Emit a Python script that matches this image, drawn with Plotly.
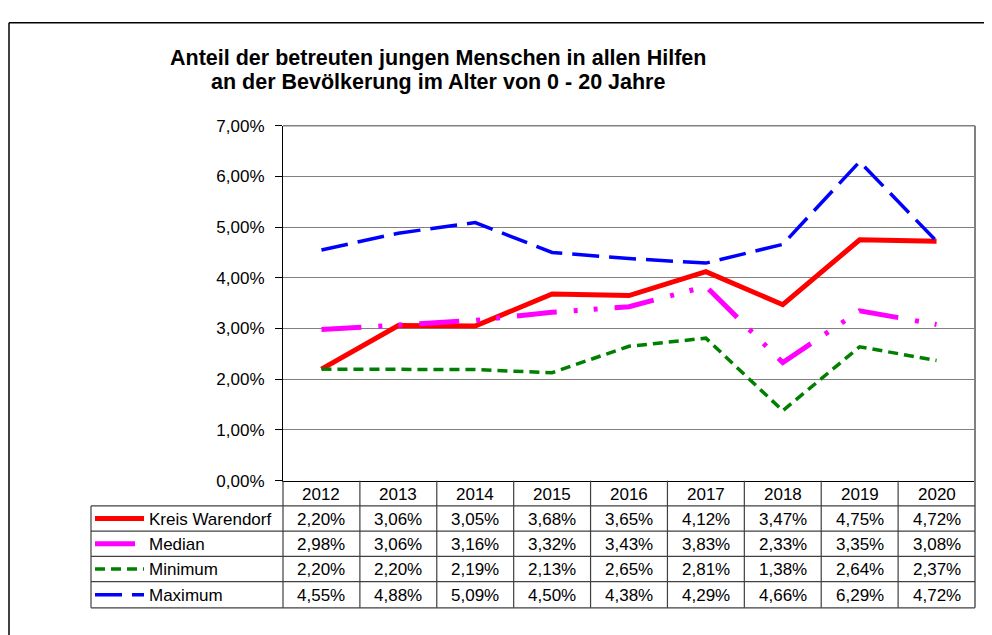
import plotly.graph_objects as go

years = ["2012", "2013", "2014", "2015", "2016", "2017", "2018", "2019", "2020"]
series_names = ["Kreis Warendorf", "Median", "Minimum", "Maximum"]
kreis = [2.20, 3.06, 3.05, 3.68, 3.65, 4.12, 3.47, 4.75, 4.72]
median = [2.98, 3.06, 3.16, 3.32, 3.43, 3.83, 2.33, 3.35, 3.08]
minimum = [2.20, 2.20, 2.19, 2.13, 2.65, 2.81, 1.38, 2.64, 2.37]
maximum = [4.55, 4.88, 5.09, 4.50, 4.38, 4.29, 4.66, 6.29, 4.72]
title_lines = ["Anteil der betreuten jungen Menschen in allen Hilfen",
               "an der Bevölkerung im Alter von 0 - 20 Jahre"]

W, H = 992, 635
OFF = 8  # page body margin offset
FONT = "Liberation Sans, Arial, sans-serif"


def px(x):
    return (x - OFF) / W


def py(y):
    return 1 - (y - OFF) / H


def fmt(v):
    return f"{v:.2f}".replace(".", ",") + "%"


styles = [
    dict(color="#ff0000", width=5, dash="solid"),
    dict(color="#ff00ff", width=5, dash="40px,17px,4px,16px,4px,17px"),
    dict(color="#008000", width=3.5, dash="10px,6px"),
    dict(color="#0000ff", width=3.5, dash="27px,10px"),
]
data = [kreis, median, minimum, maximum]
xi = list(range(len(years)))

fig = go.Figure()
for name, vals, st in zip(series_names, data, styles):
    fig.add_trace(go.Scatter(x=xi, y=vals, mode="lines", name=name,
                             line=st, showlegend=False))

PL, PR, PT, PB = 283, 975, 120, 486
ROW_Y = [512, 538, 564, 590, 617]

shapes = []
# outer chart frame (top and left edges visible)
shapes.append(dict(type="line", xref="paper", yref="paper",
                   x0=px(9), y0=py(14), x1=px(1100), y1=py(14),
                   line=dict(color="#000000", width=1.5)))
shapes.append(dict(type="line", xref="paper", yref="paper",
                   x0=px(9), y0=py(14), x1=px(9), y1=py(700),
                   line=dict(color="#000000", width=1.5)))
# plot area top and right border
shapes.append(dict(type="line", xref="paper", yref="paper",
                   x0=px(PL), x1=px(PR), y0=py(PT), y1=py(PT),
                   line=dict(color="#808080", width=1.5)))
shapes.append(dict(type="line", xref="paper", yref="paper",
                   x0=px(PR), x1=px(PR), y0=py(PT), y1=py(ROW_Y[-1]),
                   line=dict(color="#808080", width=2)))
TC = "#404040"
# table horizontal lines
for yy in ROW_Y:
    shapes.append(dict(type="line", xref="paper", yref="paper",
                       x0=px(91), x1=px(PR), y0=py(yy), y1=py(yy),
                       line=dict(color=TC, width=1.2)))
# table vertical lines
shapes.append(dict(type="line", xref="paper", yref="paper",
                   x0=px(91), x1=px(91), y0=py(ROW_Y[0]), y1=py(ROW_Y[-1]),
                   line=dict(color=TC, width=1.2)))
shapes.append(dict(type="line", xref="paper", yref="paper",
                   x0=px(PL), x1=px(PL), y0=py(PB), y1=py(ROW_Y[-1]),
                   line=dict(color=TC, width=1.2)))
for i in range(1, len(years)):
    shapes.append(dict(type="line", xref="x", yref="paper",
                       x0=i - 0.5, x1=i - 0.5, y0=py(PB), y1=py(ROW_Y[-1]),
                       line=dict(color=TC, width=1.2)))
# legend keys inside the table
for k, st in enumerate(styles):
    yc = (ROW_Y[k] + ROW_Y[k + 1]) / 2
    x1 = 135 if k == 1 else 144
    shapes.append(dict(type="line", xref="paper", yref="paper",
                       x0=px(95), x1=px(x1), y0=py(yc), y1=py(yc),
                       line=dict(color=st["color"], width=st["width"],
                                 dash="solid" if k == 1 else st["dash"])))

annotations = []
for line, yy in zip(title_lines, [50, 75]):
    annotations.append(dict(text="<b>" + line + "</b>", xref="paper", yref="paper",
                            x=px(438), y=py(yy), xanchor="center", yanchor="middle",
                            showarrow=False, font=dict(family=FONT, size=21.5, color="#000")))
# header years
for i, yr in enumerate(years):
    annotations.append(dict(text=yr, xref="x", yref="paper", x=i,
                            y=py((PB + ROW_Y[0]) / 2 + 1), xanchor="center", yanchor="middle",
                            showarrow=False, font=dict(family=FONT, size=17, color="#000")))
for k, (name, vals) in enumerate(zip(series_names, data)):
    yc = (ROW_Y[k] + ROW_Y[k + 1]) / 2 + 1
    annotations.append(dict(text=name, xref="paper", yref="paper", x=px(147),
                            y=py(yc), xanchor="left", yanchor="middle", showarrow=False,
                            font=dict(family=FONT, size=17, color="#000")))
    for i, v in enumerate(vals):
        annotations.append(dict(text=fmt(v), xref="x", yref="paper", x=i,
                                y=py(yc), xanchor="center", yanchor="middle",
                                showarrow=False,
                                font=dict(family=FONT, size=17, color="#000")))

fig.update_layout(
    width=W, height=H,
    margin=dict(l=0, r=0, t=0, b=0),
    paper_bgcolor="white", plot_bgcolor="white",
    separators=",.",
    showlegend=False,
    font=dict(family=FONT, size=17, color="#000"),
    xaxis=dict(domain=[px(PL), px(PR)], range=[-0.5, 8.5],
               showticklabels=False, ticks="", showgrid=False, zeroline=False,
               showline=True, linecolor="#000000", linewidth=1.2),
    yaxis=dict(domain=[py(PB), py(PT)], range=[0, 7], dtick=1,
               tickformat=".2f", ticksuffix="%", ticks="outside", ticklen=7,
               tickcolor="#000000", ticklabelstandoff=7,
               showgrid=True, gridcolor="#808080", gridwidth=1.2,
               zeroline=False, showline=True, linecolor="#000000", linewidth=1.2,
               tickfont=dict(family=FONT, size=17, color="#000")),
    shapes=shapes,
    annotations=annotations,
)

fig.write_html("out.html")
